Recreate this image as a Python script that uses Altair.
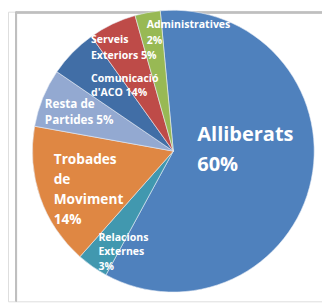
import altair as alt
import pandas as pd

categories = ["Alliberats", "Relacions Externes", "Trobades de Moviment",
              "Resta de Partides", "Comunicació d'ACO", "Serveis Exteriors",
              "Administratives"]
values = [59.4, 3.6, 16.3, 6.7, 5.6, 5.5, 2.9]
labels = ["Alliberats\n60%", "Relacions\nExternes\n3%", "Trobades\nde\nMoviment\n14%",
          "Resta de\nPartides 5%", "Comunicació\nd'ACO 14%", "Serveis\nExteriors 5%",
          "Administratives\n2%"]
colors = ["#4F81BD", "#4198AF", "#DF8743", "#93A9D1", "#416EA6", "#BE4B48", "#98B954"]

df = pd.DataFrame({"cat": categories, "value": values, "label": labels,
                   "idx": list(range(len(categories)))})

total = sum(values)
start = -0.0925
theta_scale = alt.Scale(domain=[0, total], range=[start, start + 6.283185])

CX, CY, R = 169.5, 143, 144.5
FONT = "Open Sans"

base = alt.Chart(df)

frame_left = base.mark_rule(color="#BFBFBF", strokeWidth=1.5).encode(
    x=alt.value(8.5), y=alt.value(0), y2=alt.value(297))
frame_top = base.mark_rule(color="#BFBFBF", strokeWidth=1.5).encode(
    x=alt.value(8.5), x2=alt.value(322), y=alt.value(0.75))

pie = base.mark_arc(radius=R, stroke="#E8EEF6", strokeWidth=0.6).encode(
    theta=alt.Theta("value:Q", stack=True, scale=theta_scale),
    order=alt.Order("idx:Q"),
    color=alt.Color("cat:N", scale=alt.Scale(domain=categories, range=colors), legend=None),
    x=alt.value(CX), y=alt.value(CY),
)

# label layout: category -> (radius, dx, dy, fontSize, lineHeight)
layout = {
    "Alliberats": (20.5, 4.5, -20.1, 20.5, 30),
    "Relacions Externes": (127.2, -3.8, -15.4, 10.8, 15),
    "Trobades de Moviment": (128.3, -1.4, -33.4, 14, 20.6),
    "Resta de Partides": (137.0, -4.9, 3.4, 12, 17),
    "Comunicació d'ACO": (107.0, -7.8, 0.5, 10.8, 15),
    "Serveis Exteriors": (131.5, -27.5, 4.8, 10.8, 16),
    "Administratives": (124.0, -4.7, -7.1, 10.8, 16),
}

text_layers = []
for cat, (r, dx, dy, fs, lh) in layout.items():
    t = base.transform_window(
        cum="sum(value)", sort=[alt.SortField("idx")]
    ).transform_calculate(
        mid="datum.cum - datum.value / 2"
    ).transform_filter(
        alt.datum.cat == cat
    ).mark_text(
        radius=r, dx=dx, dy=dy, align="left", baseline="middle", lineBreak="\n",
        lineHeight=lh, font=FONT, fontWeight="bold", fontSize=fs, color="white"
    ).encode(
        theta=alt.Theta("mid:Q", stack=False, scale=theta_scale),
        text="label:N",
        x=alt.value(CX), y=alt.value(CY),
    )
    text_layers.append(t)

chart = alt.layer(frame_left, frame_top, pie, *text_layers).properties(
    width=322, height=297, padding=0, autosize=alt.AutoSizeParams(type="none")
).configure_view(stroke=None).configure(background="white")

chart.save("out.html", embed_options={"renderer": "svg", "actions": False})
